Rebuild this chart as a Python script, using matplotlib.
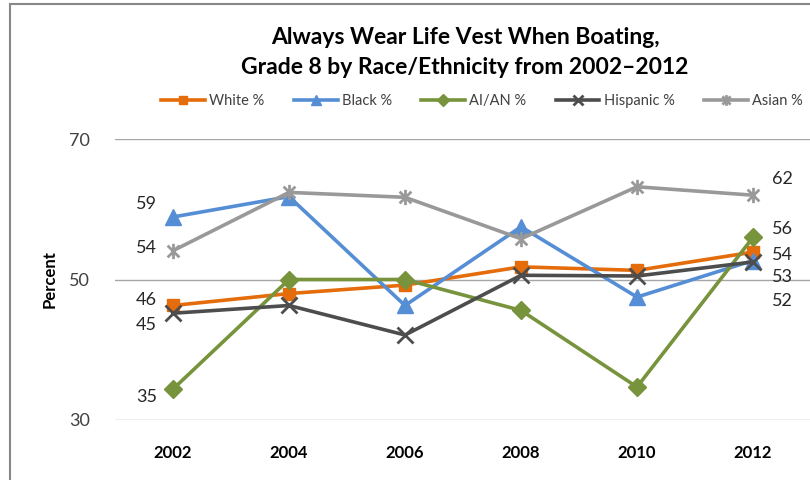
import numpy as np
import matplotlib
matplotlib.use("Agg")
from matplotlib import pyplot as plt
from matplotlib.path import Path
from matplotlib.lines import Line2D

years = ["2002", "2004", "2006", "2008", "2010", "2012"]
white = [46.3, 48.0, 49.2, 51.8, 51.3, 53.9]
black = [58.9, 61.8, 46.3, 57.5, 47.5, 52.7]
aian = [34.4, 50.0, 50.0, 45.6, 34.7, 56.0]
hispanic = [45.2, 46.3, 42.1, 50.6, 50.5, 52.5]
asian = [54.1, 62.4, 61.7, 55.8, 63.2, 62.0]

labels_left = {"Black": "59", "Asian": "54", "White": "46", "Hispanic": "45", "AI/AN": "35"}
labels_right = {"Asian": "62", "AI/AN": "56", "White": "54", "Hispanic": "53", "Black": "52"}

# label nudges (points) so the end labels don't collide
nudge_left = {"Black": 9.4, "Asian": 2, "White": 3.6, "Hispanic": -8.6, "AI/AN": -5.8}
nudge_right = {"Asian": 12, "AI/AN": 5.8, "White": -2, "Hispanic": -10.8, "Black": -28.8}

plt.rcParams['font.family'] = ['Lato', 'DejaVu Sans']

# asterisk marker like excel's star (x with a vertical bar)
star = Path([(-1, -1), (1, 1), (-1, 1), (1, -1), (0, -1.3), (0, 1.3)],
            [Path.MOVETO, Path.LINETO, Path.MOVETO, Path.LINETO, Path.MOVETO, Path.LINETO])

series = [
    ("White", white, "#E46C0A", "s", 8),
    ("Black", black, "#558ED5", "^", 11),
    ("AI/AN", aian, "#77933C", "D", 9),
    ("Hispanic", hispanic, "#4D4D4D", "x", 11),
    ("Asian", asian, "#999999", star, 11),
]

fig = plt.figure(figsize=(8.1, 4.8), dpi=100)
ax = fig.add_axes([115/810, 60/480, 696/810, 281/480])
x = np.arange(len(years))

for name, vals, col, mk, ms in series:
    ax.plot(x, vals, color=col, linewidth=2.6, marker=mk, markersize=ms,
            markeredgewidth=2 if (mk == "x" or mk is star) else 1,
            markerfacecolor=col, markeredgecolor=col, label=name + " %", zorder=3)
    ax.annotate(labels_left[name], (x[0], vals[0]), xytext=(-11.5, nudge_left[name]),
                textcoords="offset points", ha="right", va="center", fontsize=13, color="#262626")
    ax.annotate(labels_right[name], (x[-1], vals[-1]), xytext=(13.7, nudge_right[name]),
                textcoords="offset points", ha="left", va="center", fontsize=13, color="#262626")

ax.set_xlim(-0.5, 5.5)
ax.set_ylim(30, 70)
ax.set_yticks([30, 50, 70])
ax.set_xticks(x)
ax.set_xticklabels(years, fontweight="bold", fontsize=12)
ax.tick_params(axis="y", length=0, pad=18, labelsize=13, labelcolor="#404040")
ax.tick_params(axis="x", length=0, pad=18)
ax.grid(axis="y", color="#A6A6A6", linewidth=1)
ax.set_axisbelow(True)
for s in ax.spines.values():
    s.set_visible(False)
ax.set_ylabel("Percent", fontweight="bold", fontsize=12, labelpad=8)

fig.text(465/810, 1 - 38/480, "Always Wear Life Vest When Boating,", ha="center", va="center",
         fontsize=16.5, fontweight="bold")
fig.text(465/810, 1 - 68/480, "Grade 8 by Race/Ethnicity from 2002\u20132012", ha="center", va="center",
         fontsize=16.5, fontweight="bold")

fig.legend(loc="center", bbox_to_anchor=(482/810, 1 - 101/480), ncol=5, frameon=False,
           fontsize=10.5, handlelength=3.0, columnspacing=2.0, handletextpad=0.3,
           markerscale=0.7, labelcolor="#404040")

# chart border
fig.add_artist(Line2D([10/810, 10/810], [0, 1 - 4/480], color="#888888", linewidth=1.5))
fig.add_artist(Line2D([10/810, 1], [1 - 4/480, 1 - 4/480], color="#888888", linewidth=1.5))

fig.savefig("out.png", dpi=100)
